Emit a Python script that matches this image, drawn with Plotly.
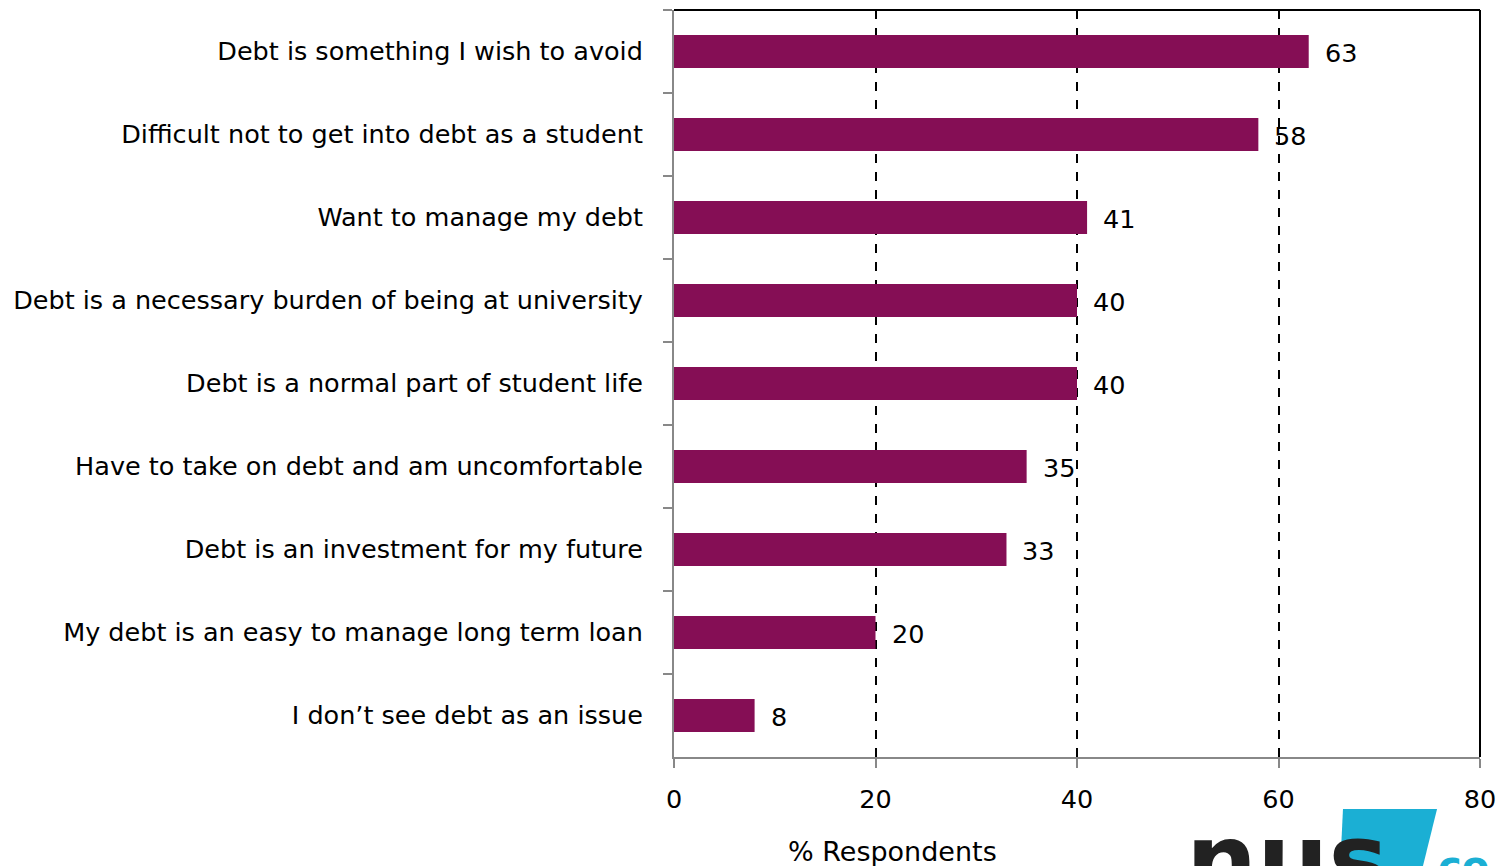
import plotly.graph_objects as go

categories = [
    "Debt is something I wish to avoid",
    "Difficult not to get into debt as a student",
    "Want to manage my debt",
    "Debt is a necessary burden of being at university",
    "Debt is a normal part of student life",
    "Have to take on debt and am uncomfortable",
    "Debt is an investment for my future",
    "My debt is an easy to manage long term loan",
    "I don\u2019t see debt as an issue",
]
values = [63, 58, 41, 40, 40, 35, 33, 20, 8]
x_ticks = [0, 20, 40, 60, 80]

FONT = "DejaVu Sans"
FS = 25.5
BAR = "#850E55"
CYAN = "#1BAFD4"

fig = go.Figure()
fig.add_trace(go.Bar(
    x=values, y=categories, orientation="h",
    marker=dict(color=BAR, line=dict(width=0)),
    width=0.4, hoverinfo="x+y",
))

for c, v in zip(categories, values):
    fig.add_annotation(x=v, y=c, text=str(v), showarrow=False,
                       xanchor="left", xshift=14, yshift=-1,
                       font=dict(family=FONT, size=FS, color="#000"))

fig.add_annotation(x=0.271, y=-0.126, xref="paper", yref="paper",
                   text="% Respondents", showarrow=False,
                   xanchor="center", yanchor="middle",
                   font=dict(family=FONT, size=27, color="#000"))

# frame (top / right black)
fig.add_shape(type="line", xref="paper", yref="paper", x0=0, x1=1, y0=1, y1=1,
              line=dict(color="#000", width=2))
fig.add_shape(type="line", xref="paper", yref="paper", x0=1, x1=1, y0=0, y1=1,
              line=dict(color="#000", width=2))

# logo approximation (partially cut at bottom)
fig.add_shape(type="path", xref="paper", yref="paper",
              path="M 0.830 -0.0696 L 0.9467 -0.0696 L 0.926 -0.16 L 0.826 -0.16 Z",
              fillcolor=CYAN, line=dict(width=0), layer="above")
fig.add_annotation(x=0.633, y=-0.057, xref="paper", yref="paper",
                   text="<b>nus</b>", showarrow=False, xanchor="left", yanchor="top",
                   font=dict(family="DejaVu Sans", size=100, color="#222"))
fig.add_annotation(x=0.945, y=-0.112, xref="paper", yref="paper",
                   text="<b>co</b>", showarrow=False, xanchor="left", yanchor="top",
                   font=dict(family="DejaVu Sans", size=40, color=CYAN))

fig.update_layout(
    width=1497, height=858,
    margin=dict(l=666, r=25, t=2, b=109),
    plot_bgcolor="white", paper_bgcolor="white",
    showlegend=False,
    font=dict(family=FONT, size=FS, color="#000"),
    bargap=0.6,
)
fig.update_xaxes(
    range=[0, 80], tickvals=x_ticks, ticktext=[str(t) for t in x_ticks],
    showgrid=True, gridcolor="#000", griddash="dash", gridwidth=1.5,
    showline=True, linecolor="#888", linewidth=2,
    ticks="outside", ticklen=9, tickcolor="#888", tickwidth=2,
    ticklabelstandoff=9, zeroline=False,
    tickfont=dict(family=FONT, size=FS, color="#000"),
)
fig.update_yaxes(
    autorange="reversed", categoryorder="array", categoryarray=categories,
    showline=True, linecolor="#888", linewidth=2,
    ticks="outside", tickson="boundaries", ticklen=9, tickcolor="#888", tickwidth=2,
    ticklabelstandoff=24, showgrid=False,
    tickfont=dict(family=FONT, size=FS, color="#000"),
)

fig.write_html("out.html")
